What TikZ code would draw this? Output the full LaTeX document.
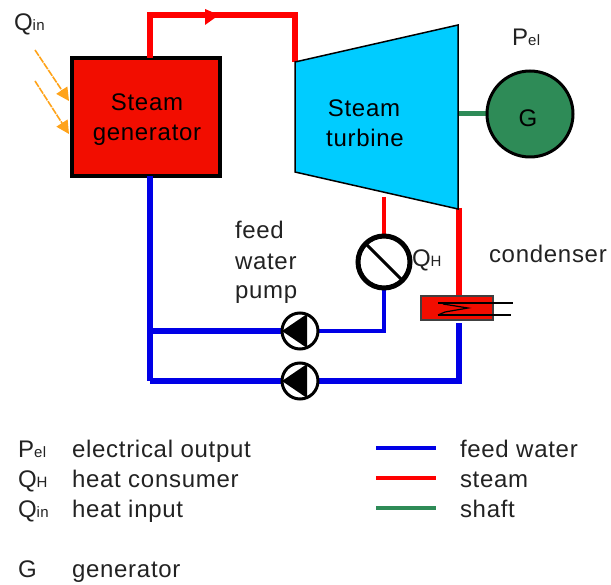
\documentclass[tikz,border=0pt]{standalone}
\usepackage{fontspec}
\setmainfont[LetterSpace=3]{Liberation Sans}
\usetikzlibrary{arrows.meta}
\definecolor{cred}{HTML}{F20D00}
\definecolor{pipered}{HTML}{FF0000}
\definecolor{pipeblue}{HTML}{0000E6}
\definecolor{shaftgreen}{HTML}{2E8B57}
\definecolor{turb}{HTML}{00CCFF}
\definecolor{sun}{HTML}{FFA31A}
\definecolor{txt}{HTML}{222222}
\newcommand{\subt}[1]{{\fontsize{15}{15}\selectfont #1}}
\tikzset{
  x=1pt,y=-1pt,
  lbl/.style={inner sep=0pt,outer sep=0pt,anchor=base west,text=txt,font=\fontsize{24}{24}\selectfont},
  mid/.style={inner sep=0pt,outer sep=0pt,anchor=base,text=black,font=\fontsize{24}{24}\selectfont},
  steam/.style={draw=pipered,line width=5.5pt},
  steamthin/.style={draw=pipered,line width=3.5pt},
  feed/.style={draw=pipeblue,line width=5.5pt},
  feedthin/.style={draw=pipeblue,line width=3.5pt},
  shaft/.style={draw=shaftgreen,line width=5pt},
  ray/.style={draw=sun,line width=1.6pt,dash pattern=on 7pt off 1pt,-{Triangle[length=13pt,width=13pt,fill=sun]}},
  pumpnode/.style={circle,draw=black,line width=3pt,fill=white,minimum size=36pt,inner sep=0pt,outer sep=0pt},
}
\begin{document}
\begin{tikzpicture}
\useasboundingbox (0,0) rectangle (611,585);
% turbine corners
\coordinate (tA) at (295,62);
\coordinate (tB) at (458,25);
\coordinate (tC) at (458,209);
\coordinate (tD) at (295,172);
\coordinate (steamTop1) at (150,15);
\coordinate (steamTop2) at (295,15);
\coordinate (consTap) at (384,197);
\coordinate (condTap) at (459,208);
\coordinate (shaftTap) at (458,114);
\coordinate (junc) at (150,331);
\coordinate (corner1) at (150,381);
\coordinate (corner2) at (384,331);
\coordinate (corner3) at (459,381);
\coordinate (condIn1) at (459,296);
\coordinate (condOut) at (459,323);
\coordinate (ray1a) at (35,50);
\coordinate (ray1b) at (69,101);
\coordinate (ray2a) at (35,81);
\coordinate (ray2b) at (69,134);

\node[draw=black,line width=4pt,fill=cred,minimum width=148pt,minimum height=118pt,inner sep=0pt,outer sep=0pt] (sg) at (146,117) {};
% pipes
\draw[steam] (sg.north -| steamTop1) -- (steamTop1) -- (steamTop2) -- (tA);
\fill[pipered] (205,9) -- (219,15) -- (205,25) -- cycle;
\draw[feed] (sg.south -| junc) -- (corner1);
\draw[feed] (junc) -- (300,331);
\draw[feed] (corner1) -- (300,381);
\draw[feed] (300,381) -- (corner3) -- (condOut);
\draw[feedthin] (300,331) -- (corner2) -- (384,262);
\draw[steamthin] (consTap) -- (384,262);
\draw[steam] (condTap) -- (condIn1);
\draw[shaft] (shaftTap) -- (530,114);
% turbine
\draw[draw=black,line width=1.5pt,fill=turb] (tA) -- (tB) -- (tC) -- (tD) -- cycle;
% generator
\node[circle,draw=black,line width=3pt,fill=shaftgreen,minimum size=86pt,inner sep=0pt,outer sep=0pt] (gen) at (530,114) {};
% heat consumer
\node[circle,draw=black,line width=5pt,fill=white,minimum size=52pt,inner sep=0pt,outer sep=0pt] (hc) at (384,262) {};
\draw[black,line width=3pt] (hc.north west) -- (hc.south east);
% pumps
\node[pumpnode] (p1) at (300,331) {};
\fill[black] (p1.west) -- (307,314) -- (307,348) -- cycle;
\node[pumpnode] (p2) at (300,381) {};
\fill[black] (p2.west) -- (307,364) -- (307,398) -- cycle;
% condenser
\node[draw=black!75,line width=1.5pt,fill=cred,minimum width=72pt,minimum height=24pt,inner sep=0pt,outer sep=0pt] (cd) at (457,308) {};
\draw[black,line width=1.3pt] (438,303) -- (513,303);
\draw[black,line width=1.3pt] (438,315) -- (511,315);
\draw[black,line width=1.2pt] (443,304) -- (468,308) -- (445,312) -- (438,315);
% rays
\draw[ray] (ray1a) -- (ray1b);
\draw[ray] (ray2a) -- (ray2b);
% labels
\node[mid] (t1) at (147,111) {Steam};
\node[mid] (t2) at (147,141) {generator};
\node[mid] (t3) at (364,117) {Steam};
\node[mid] (t4) at (365,147) {turbine};
\node[lbl] (t5) at (235,239) {feed};
\node[lbl] (t6) at (235,270) {water};
\node[lbl] (t7) at (235,299) {pump};
\node[lbl] (t8) at (489,263) {condenser};
\node[lbl] (t9) at (512,46) {P\subt{el}};
\node[mid] (t10) at (528,127) {G};
\node[lbl] (t11) at (412,267) {Q\subt{H}};
\node[lbl] (t12) at (14,31) {Q\subt{in}};
% legend
\node[lbl] (k1) at (18,457) {P\subt{el}};
\node[lbl] (k2) at (18,487) {Q\subt{H}};
\node[lbl] (k3) at (18,517) {Q\subt{in}};
\node[lbl] (k4) at (18,577) {G};
\node[lbl] (d1) at (72,457) {electrical output};
\node[lbl] (d2) at (72,487) {heat consumer};
\node[lbl] (d3) at (72,517) {heat input};
\node[lbl] (d4) at (72,577) {generator};
\coordinate (l1a) at (376,448); \coordinate (l1b) at (436,448);
\coordinate (l2a) at (376,478); \coordinate (l2b) at (436,478);
\coordinate (l3a) at (376,508); \coordinate (l3b) at (436,508);
\draw[feedthin] (l1a) -- (l1b);
\draw[steamthin] (l2a) -- (l2b);
\draw[shaft,line width=3.5pt] (l3a) -- (l3b);
\node[lbl] (e1) at (460,457) {feed water};
\node[lbl] (e2) at (460,487) {steam};
\node[lbl] (e3) at (460,517) {shaft};
\end{tikzpicture}
\end{document}
